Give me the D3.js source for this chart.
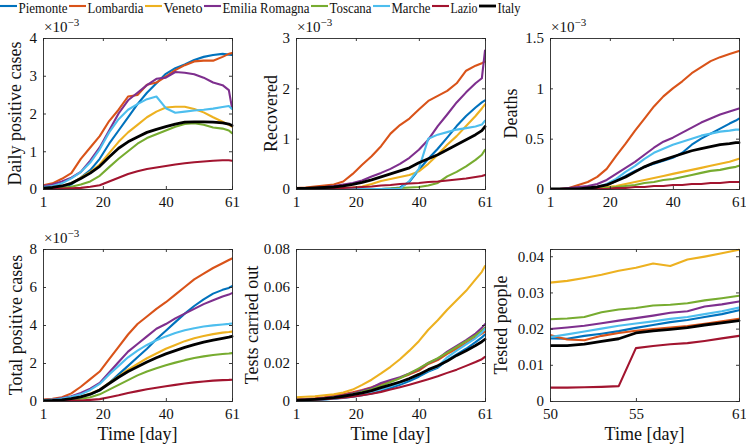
<!DOCTYPE html>
<html><head><meta charset="utf-8">
<script src="https://cdn.jsdelivr.net/npm/d3@7"></script>
<style>
html,body{margin:0;padding:0;background:#fff;}
svg, svg text{font-family:"Liberation Serif","DejaVu Serif",serif;}
</style></head>
<body><svg id="c" width="746" height="445"></svg>
<script>
// ---------- data ----------
const regions = ["Piemonte","Lombardia","Veneto","Emilia Romagna","Toscana","Marche","Lazio","Italy"];
const colors  = ["#0072BD","#D95319","#EDB120","#7E2F8E","#77AC30","#4DBEEE","#A2142F","#000000"];
const days  = [1,4,7,10,13,16,19,22,25,28,31,34,37,40,43,46,49,52,55,58,60,61];
const days6 = [50,51,52,53,54,55,56,57,58,59,60,61];
const xTicks  = [1,20,40,61];
const xTicks6 = [50,55,61];

// Daily positive cases (x 10^-3), order = regions
const dailyPositive = [
 [.02,.03,.06,.12,.30,.50,.80,1.20,1.55,1.90,2.25,2.55,2.80,3.05,3.20,3.30,3.42,3.50,3.55,3.58,3.56,3.55],
 [.10,.15,.27,.42,.80,1.10,1.40,1.80,2.10,2.45,2.49,2.76,2.82,2.98,3.15,3.28,3.38,3.40,3.40,3.50,3.58,3.60],
 [.03,.05,.08,.15,.30,.45,.65,.95,1.25,1.50,1.70,1.90,2.05,2.16,2.18,2.18,2.12,2.03,1.90,1.78,1.70,1.65],
 [.08,.12,.20,.30,.45,.75,1.10,1.55,2.00,2.35,2.55,2.75,2.92,2.95,3.10,3.08,3.04,2.95,2.82,2.75,2.62,2.15],
 [.01,.02,.03,.06,.12,.20,.35,.58,.80,1.00,1.20,1.35,1.45,1.55,1.65,1.72,1.74,1.70,1.63,1.60,1.55,1.48],
 [.05,.08,.15,.28,.45,.70,1.05,1.50,1.85,2.10,2.25,2.38,2.45,2.14,2.02,2.05,2.08,2.10,2.13,2.17,2.20,2.12],
 [.00,.00,.01,.02,.03,.06,.10,.20,.30,.40,.47,.53,.57,.61,.65,.68,.71,.73,.75,.76,.76,.75],
 [.02,.04,.08,.15,.28,.42,.60,.85,1.08,1.25,1.38,1.50,1.58,1.65,1.72,1.77,1.78,1.78,1.77,1.75,1.72,1.68]
];
// Recovered (x 10^-3)
const recovered = [
 [0,0,0,0,0,0,0,0,0,0,.01,.03,.14,.38,.60,.80,1.02,1.25,1.45,1.62,1.72,1.76],
 [.02,.03,.05,.07,.09,.15,.30,.48,.65,.85,1.10,1.27,1.40,1.58,1.75,1.85,1.95,2.10,2.35,2.45,2.50,2.53],
 [0,0,0,.01,.02,.02,.03,.05,.10,.16,.20,.24,.28,.35,.50,.68,.88,1.05,1.25,1.45,1.60,1.68],
 [0,.01,.02,.04,.06,.09,.12,.17,.25,.32,.40,.50,.62,.78,.98,1.25,1.48,1.72,1.92,2.10,2.20,2.75],
 [0,0,0,0,0,0,0,0,0,0,.01,.02,.03,.04,.07,.12,.25,.34,.45,.58,.68,.78],
 [0,0,0,0,0,0,0,0,0,0,0,0,.16,.40,1.00,1.08,1.13,1.18,1.21,1.24,1.28,1.36],
 [0,0,0,.01,.01,.02,.03,.04,.05,.07,.08,.10,.11,.12,.14,.15,.17,.19,.21,.24,.26,.28],
 [.01,.01,.02,.03,.04,.06,.09,.13,.18,.24,.30,.36,.42,.52,.60,.68,.78,.88,.98,1.08,1.16,1.24]
];
// Deaths (x 10^-3)
const deaths = [
 [0,0,0,0,.01,.02,.04,.08,.13,.18,.22,.25,.28,.31,.36,.44,.50,.55,.60,.65,.68,.70],
 [0,0,.01,.04,.07,.12,.20,.33,.45,.58,.70,.82,.92,1.00,1.07,1.15,1.21,1.27,1.31,1.34,1.36,1.37],
 [0,0,0,0,0,.01,.02,.03,.05,.07,.09,.11,.13,.15,.17,.19,.21,.23,.25,.27,.29,.30],
 [0,0,.01,.02,.03,.05,.09,.15,.21,.27,.34,.41,.47,.51,.56,.61,.66,.70,.74,.77,.79,.80],
 [0,0,0,0,0,0,.01,.02,.03,.04,.06,.07,.09,.10,.12,.14,.16,.18,.19,.21,.22,.23],
 [0,0,0,0,.01,.02,.05,.10,.17,.23,.30,.36,.40,.44,.47,.50,.53,.55,.57,.58,.59,.59],
 [0,0,0,0,0,0,0,.01,.01,.02,.02,.03,.03,.04,.04,.05,.05,.06,.06,.07,.07,.07],
 [0,0,0,0,.01,.02,.04,.08,.12,.17,.22,.26,.29,.32,.35,.38,.40,.42,.44,.45,.46,.46]
];
// Total positive cases (x 10^-3)
const totalPositive = [
 [.02,.04,.07,.12,.22,.35,.55,.95,1.40,1.85,2.30,2.75,3.25,3.70,4.15,4.60,5.00,5.35,5.65,5.85,5.95,6.05],
 [.08,.12,.20,.40,.75,1.15,1.55,2.20,2.85,3.50,4.05,4.45,4.85,5.20,5.60,6.00,6.40,6.70,7.00,7.25,7.42,7.50],
 [.02,.03,.06,.12,.22,.38,.60,.95,1.30,1.65,1.95,2.25,2.50,2.75,2.95,3.15,3.30,3.42,3.52,3.60,3.63,3.65],
 [.05,.08,.15,.25,.42,.65,.95,1.50,2.05,2.60,3.00,3.40,3.80,4.05,4.35,4.60,4.85,5.10,5.30,5.50,5.60,5.68],
 [.01,.02,.03,.06,.12,.20,.35,.60,.85,1.10,1.35,1.55,1.72,1.88,2.02,2.15,2.26,2.35,2.42,2.47,2.50,2.52],
 [.04,.07,.13,.22,.35,.58,.90,1.40,1.85,2.30,2.65,2.95,3.20,3.40,3.58,3.72,3.83,3.92,3.98,4.03,4.06,4.08],
 [.00,.00,.01,.02,.03,.06,.10,.20,.30,.42,.52,.62,.70,.78,.85,.92,.98,1.03,1.07,1.10,1.11,1.12],
 [.02,.03,.06,.12,.22,.36,.58,.92,1.25,1.55,1.80,2.05,2.28,2.48,2.65,2.82,2.97,3.10,3.20,3.30,3.36,3.40]
];
// Tests carried out
const tests = [
 [.0002,.0003,.0005,.0008,.0012,.0016,.0022,.0030,.0040,.0052,.0068,.0085,.0105,.0128,.0155,.0175,.0215,.0245,.0275,.0310,.0335,.0350],
 [.0008,.0010,.0014,.0020,.0028,.0036,.0046,.0058,.0072,.0090,.0105,.0122,.0140,.0160,.0195,.0215,.0248,.0275,.0305,.0335,.0355,.0365],
 [.0020,.0022,.0025,.0030,.0035,.0045,.0060,.0085,.0112,.0145,.0180,.0220,.0265,.0315,.0375,.0425,.0480,.0530,.0580,.0640,.0680,.0710],
 [.0005,.0007,.0010,.0015,.0022,.0030,.0040,.0055,.0070,.0095,.0110,.0125,.0145,.0168,.0200,.0222,.0260,.0290,.0320,.0355,.0385,.0405],
 [.0003,.0005,.0008,.0012,.0018,.0025,.0035,.0048,.0062,.0080,.0100,.0120,.0145,.0172,.0200,.0225,.0255,.0285,.0315,.0345,.0370,.0385],
 [.0002,.0003,.0005,.0008,.0012,.0018,.0026,.0036,.0048,.0062,.0078,.0095,.0115,.0140,.0160,.0180,.0230,.0265,.0298,.0330,.0360,.0380],
 [.0003,.0005,.0007,.0010,.0013,.0017,.0022,.0030,.0038,.0048,.0060,.0072,.0085,.0100,.0115,.0130,.0148,.0165,.0185,.0205,.0220,.0232],
 [.0004,.0006,.0009,.0013,.0018,.0025,.0033,.0043,.0055,.0070,.0085,.0100,.0118,.0140,.0165,.0185,.0210,.0240,.0265,.0292,.0312,.0325]
];
// Tested people (days 50..61)
const testedPeople = [
 [.0173,.0172,.0180,.0186,.0193,.0202,.0210,.0218,.0224,.0232,.0240,.0251],
 [.0182,.0170,.0168,.0180,.0188,.0194,.0199,.0203,.0207,.0213,.0220,.0227],
 [.0327,.0332,.0340,.0349,.0360,.0368,.0380,.0373,.0391,.0399,.0408,.0418],
 [.0199,.0203,.0208,.0215,.0222,.0229,.0236,.0244,.0248,.0261,.0267,.0275],
 [.0226,.0228,.0232,.0245,.0253,.0257,.0264,.0266,.0270,.0278,.0284,.0291],
 [.0177,.0184,.0192,.0200,.0208,.0214,.0220,.0227,.0232,.0240,.0248,.0258],
 [.0037,.0037,.0038,.0039,.0041,.0146,.0152,.0157,.0160,.0166,.0173,.0180],
 [.0153,.0153,.0157,.0165,.0172,.0188,.0194,.0198,.0203,.0210,.0216,.0222]
];
const yTicks1 = [0,1,2,3,4];
const yTicks2 = [0,1,2,3];
const yTicks3 = [0,0.5,1,1.5];
const yTicks4 = [0,2,4,6,8];
const yTicks5 = [0,0.02,0.04,0.06,0.08];
const yTicks6 = [0,0.01,0.02,0.03,0.04];

// ---------- layout ----------
const FONT = "'Liberation Serif','DejaVu Serif',serif";
const cols = [[43,232],[296,485],[550,739]];
const rows = [[38,189],[249,401]];
const panels = [
 {c:0,r:0,data:dailyPositive,x:days,xd:[1,61],xt:xTicks,yd:[0,4],yt:yTicks1,lab:"Daily positive cases",exp:true,lx:-22,xlab:false},
 {c:1,r:0,data:recovered,x:days,xd:[1,61],xt:xTicks,yd:[0,3],yt:yTicks2,lab:"Recovered",exp:true,lx:-19,xlab:false},
 {c:2,r:0,data:deaths,x:days,xd:[1,61],xt:xTicks,yd:[0,1.5],yt:yTicks3,lab:"Deaths",exp:true,lx:-33,xlab:false},
 {c:0,r:1,data:totalPositive,x:days,xd:[1,61],xt:xTicks,yd:[0,8],yt:yTicks4,lab:"Total positive cases",exp:true,lx:-21,xlab:true},
 {c:1,r:1,data:tests,x:days,xd:[1,61],xt:xTicks,yd:[0,0.08],yt:yTicks5,lab:"Tests carried out",exp:false,lx:-38,xlab:true},
 {c:2,r:1,data:testedPeople,x:days6,xd:[50,61],xt:xTicks6,yd:[0,0.042],yt:yTicks6,lab:"Tested people",exp:false,lx:-43,xlab:true}
];

const svg = d3.select("#c");
const axisCol = "#262626";
const fmt = v => String(+v.toFixed(4));

panels.forEach((p,i) => {
  const [x0,x1] = cols[p.c], [y0,y1] = rows[p.r];
  const xs = d3.scaleLinear().domain(p.xd).range([x0,x1]);
  const ys = d3.scaleLinear().domain(p.yd).range([y1,y0]);
  const g = svg.append("g");
  const clipId = "clip"+i;
  svg.append("clipPath").attr("id",clipId).append("rect")
    .attr("x",x0).attr("y",y0-2).attr("width",x1-x0+2).attr("height",y1-y0+3);

  const line = d3.line().x((d,j)=>xs(p.x[j])).y(d=>ys(d));
  const lg = g.append("g").attr("clip-path",`url(#${clipId})`);
  p.data.forEach((ser,k) => {
    lg.append("path").attr("d",line(ser)).attr("fill","none")
      .attr("stroke",colors[k]).attr("stroke-width",k===7?2.8:2.1)
      .attr("stroke-linejoin","round").attr("stroke-linecap","round");
  });

  const tl = 3;
  const ax = g.append("g");
  ax.append("g").attr("transform",`translate(0,${y1})`)
    .call(d3.axisBottom(xs).tickValues(p.xt).tickSize(-tl).tickPadding(7).tickFormat(d3.format("d")));
  ax.append("g").attr("transform",`translate(0,${y0})`)
    .call(d3.axisTop(xs).tickValues(p.xt).tickSize(-tl).tickFormat(""));
  ax.append("g").attr("transform",`translate(${x0},0)`)
    .call(d3.axisLeft(ys).tickValues(p.yt).tickSize(-tl).tickPadding(6).tickFormat(fmt));
  ax.append("g").attr("transform",`translate(${x1},0)`)
    .call(d3.axisRight(ys).tickValues(p.yt).tickSize(-tl).tickFormat(""));
  ax.selectAll("g").attr("font-family",FONT).attr("font-size",15);
  ax.selectAll(".domain").attr("stroke",axisCol).attr("stroke-width",0.9);
  ax.selectAll(".tick line").attr("stroke",axisCol).attr("stroke-width",0.9);
  ax.selectAll(".tick text").attr("fill","#111").attr("font-size",15).attr("font-family",FONT);

  svg.append("text").attr("transform",`translate(${x0+p.lx},${(y0+y1)/2}) rotate(-90)`)
    .attr("text-anchor","middle").attr("font-size",18).attr("font-family",FONT)
    .attr("fill","#111").text(p.lab);

  if (p.exp) {
    const t = svg.append("text").attr("x",x0+1).attr("y",y0-6).attr("font-size",15)
      .attr("font-family",FONT).attr("fill","#111");
    t.append("tspan").text("×10");
    t.append("tspan").attr("font-size",11).attr("dy",-6).text("−3");
  }
  if (p.xlab) {
    svg.append("text").attr("x",(x0+x1)/2).attr("y",440).attr("text-anchor","middle")
      .attr("font-size",18).attr("font-family",FONT).attr("fill","#111").text("Time [day]");
  }
});

// legend (text compressed to the reference's narrow legend widths)
const legendWidths = [49,56,39,87,42,39,27,23];
const leg = svg.append("g");
let lx = 0;
regions.forEach((r,k) => {
  leg.append("line").attr("x1",lx).attr("x2",lx+17).attr("y1",6).attr("y2",6)
    .attr("stroke",colors[k]).attr("stroke-width",k===7?2.8:2.1);
  leg.append("text").attr("x",lx+18.5).attr("y",12.5).attr("font-size",14.5)
    .attr("font-family",FONT).attr("fill","#111")
    .attr("textLength",legendWidths[k]).attr("lengthAdjust","spacingAndGlyphs").text(r);
  lx = lx + 18.5 + legendWidths[k] + 1.5;
});
</script></body></html>
